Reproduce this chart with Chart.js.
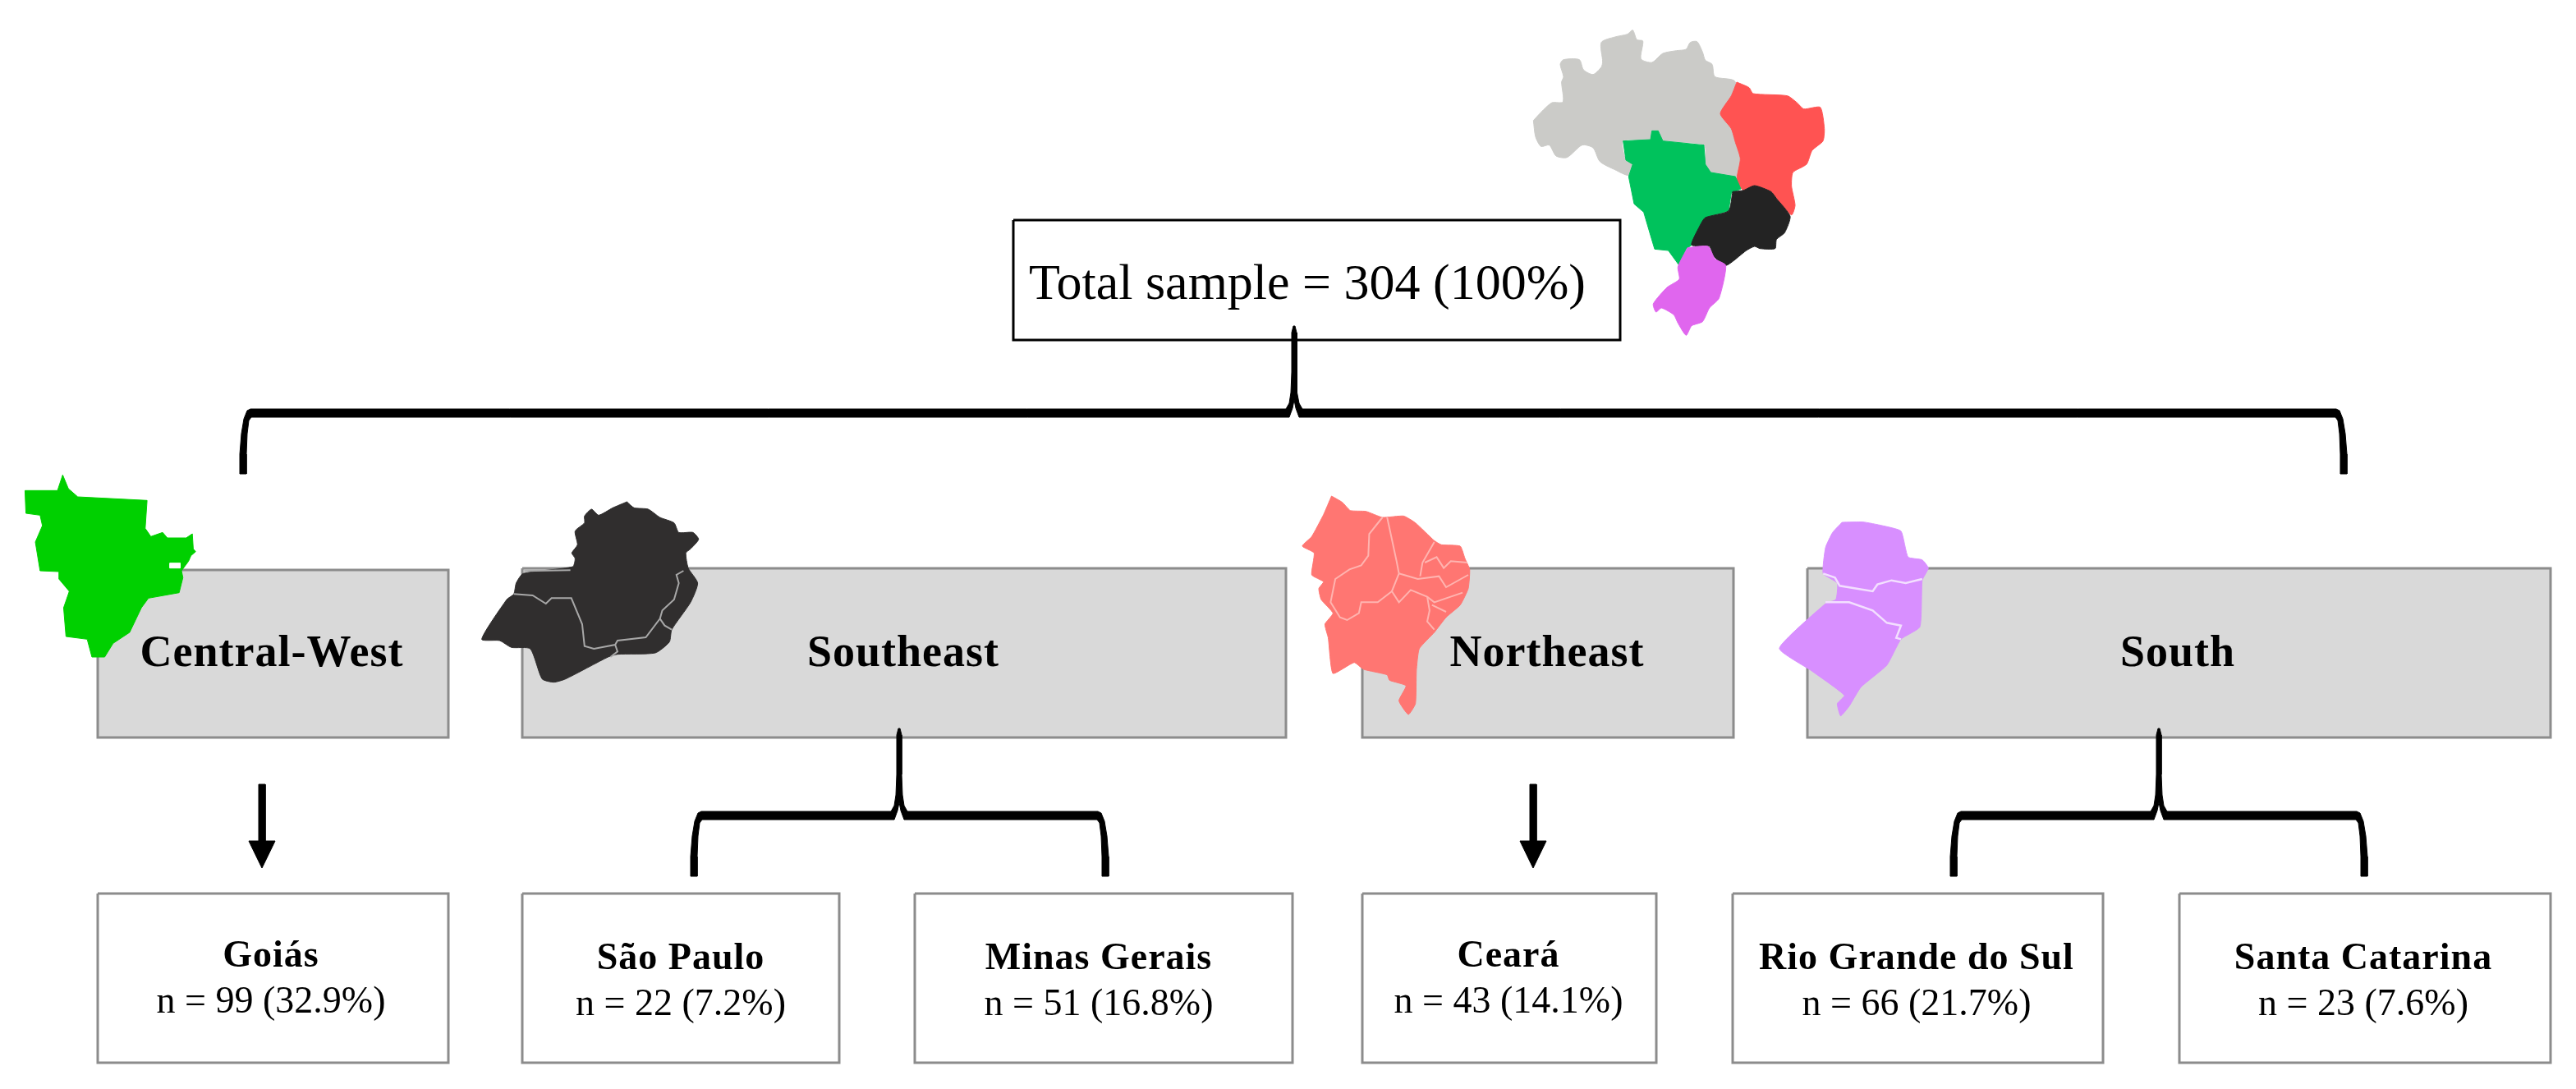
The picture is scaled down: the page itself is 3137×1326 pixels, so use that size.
<!DOCTYPE html>
<html>
<head>
<meta charset="utf-8">
<title>Total sample by region</title>
<script src="https://cdn.jsdelivr.net/npm/chart.js@4"></script>
<style>
    html, body { margin: 0; padding: 0; background: #ffffff; }
    canvas { display: block; }
</style>
</head>
<body>
<canvas id="chart" width="3137" height="1326"></canvas>
<script>
// Values
const totalSample = 304;
const totalPercent = 100;
const regions = ['Central-West', 'Southeast', 'Northeast', 'South'];
const states = ['Goiás', 'São Paulo', 'Minas Gerais', 'Ceará', 'Rio Grande do Sul', 'Santa Catarina'];
const stateCounts = [99, 22, 51, 43, 66, 23];
const statePercents = ['32.9', '7.2', '16.8', '14.1', '21.7', '7.6'];

// Layout of the diagram, in axis units (left, right)
const regionBoxes = [[119, 546], [636, 1566], [1659, 2111], [2201, 3106]];
const regionBoxTop = [694, 692, 692, 692];
const regionBoxBottom = 898;
const regionLabelX = [331, 1100, 1884, 2652];
const regionLabelY = 811;
const stateBoxes = [[119, 546], [636, 1022], [1114, 1574], [1659, 2017], [2110, 2561], [2654, 3106]];
const stateBoxTop = 1088;
const stateBoxBottom = 1294;
const stateLabelX = [330, 829, 1338, 1837, 2334, 2878];
const stateLabelY = [1177, 1180, 1180, 1177, 1180, 1180];

// Bracket shapes: left, right, middle, tip, horizontal bar, leg end
const brackets = [
    [296, 2854, 1576, 397, 503, 577],
    [845, 1346, 1095, 887, 993, 1067],
    [2379, 2879, 2629, 887, 993, 1067],
];
const arrowX = [319, 1867];

// Map outlines
const brazilNorth = [[262,440],[300,400],[330,375],[370,372],[365,300],[372,280],[360,235],[372,218],[430,218],[445,255],[480,272],[510,245],[515,225],[510,155],[560,135],[605,125],[625,110],[640,145],[662,150],[655,215],[695,228],[735,195],[785,185],[820,180],[835,155],[860,152],[880,190],[890,220],[915,235],[925,280],[1000,300],[1010,640],[905,630],[890,600],[885,530],[735,515],[720,480],[690,510],[590,515],[600,585],[625,600],[610,640],[560,620],[505,590],[480,540],[440,530],[385,575],[345,570],[320,530],[290,535],[270,500]];
const brazilNortheast = [[1005,300],[1050,320],[1065,342],[1190,350],[1225,375],[1250,398],[1310,392],[1325,470],[1320,515],[1280,550],[1260,600],[1210,630],[1205,680],[1218,750],[1205,785],[1150,725],[1130,700],[1070,678],[1030,695],[1005,660],[1018,580],[1000,520],[985,470],[945,415],[985,350]];
const brazilCentralWest = [[590,515],[690,510],[695,478],[718,478],[735,515],[885,530],[890,600],[910,630],[1000,645],[1020,690],[985,705],[975,770],[890,795],[870,825],[840,895],[820,910],[795,970],[755,915],[705,910],[690,860],[665,775],[630,745],[610,645],[625,600],[600,585]];
const brazilSoutheast = [[990,700],[1030,695],[1070,678],[1130,700],[1150,725],[1200,790],[1180,850],[1150,875],[1145,908],[1090,908],[1070,900],[1040,915],[965,970],[920,935],[905,900],[840,895],[870,825],[890,795],[975,770]];
const brazilSouth = [[825,905],[900,900],[925,945],[965,970],[940,1090],[905,1125],[880,1175],[840,1190],[820,1225],[790,1180],[775,1150],[730,1125],[710,1140],[700,1110],[750,1050],[795,1020],[790,975]];

const mapCentralWest = [[133,115],[145,165],[165,195],[312,208],[308,310],[320,340],[345,325],[355,345],[395,345],[408,330],[410,385],[415,395],[405,410],[400,430],[385,465],[388,490],[380,545],[315,565],[300,600],[275,690],[240,730],[222,780],[195,780],[185,715],[140,705],[135,600],[147,540],[125,495],[125,468],[85,465],[75,360],[90,300],[85,262],[55,255],[53,172],[122,172]];
const mapCentralWestGap = [[360,437],[382,437],[382,455],[360,455]];
const mapSoutheast = [[1330,213],[1345,235],[1375,240],[1400,270],[1430,290],[1440,325],[1470,325],[1482,350],[1465,385],[1455,400],[1460,455],[1480,510],[1465,580],[1425,680],[1420,725],[1390,765],[1310,770],[1290,780],[1200,860],[1175,872],[1150,860],[1125,750],[1085,745],[1060,720],[1022,715],[1075,570],[1090,550],[1095,510],[1110,475],[1215,450],[1220,420],[1213,400],[1225,370],[1220,320],[1240,290],[1240,265],[1255,240],[1270,262],[1300,235]];
const mapSoutheastBorders = [
    [[1090,550],[1130,555],[1158,585],[1170,565],[1212,565],[1235,660],[1240,740],[1260,750],[1305,735],[1310,720],[1370,708],[1400,640],[1405,610],[1430,570],[1440,510],[1435,480],[1450,465]],
    [[1400,640],[1410,665],[1425,680]],
    [[1305,735],[1310,760],[1295,780]],
    [[1112,466],[1210,463]],
];
const mapNortheast = [[142,102],[165,125],[182,155],[215,158],[250,180],[295,175],[320,200],[360,265],[375,280],[415,285],[425,330],[435,370],[432,440],[415,500],[385,545],[360,600],[328,660],[322,740],[320,860],[305,900],[285,850],[300,795],[265,775],[260,755],[210,735],[190,710],[145,750],[135,620],[128,570],[145,530],[120,480],[115,440],[125,415],[100,390],[105,310],[80,285],[100,250],[125,170]];
const mapNortheastBorders = [
    [[250,180],[222,240],[220,320],[205,355],[180,370],[150,405],[140,490],[160,545],[175,555],[200,530],[205,490],[240,490],[270,450]],
    [[260,180],[280,340],[285,385],[270,450],[285,490],[310,445],[345,470],[360,490],[420,455]],
    [[285,385],[325,405],[370,395],[385,435],[432,390]],
    [[360,270],[335,345],[330,395]],
    [[340,345],[365,325],[380,365],[395,340],[430,345]],
    [[345,470],[350,520],[345,560],[360,590]],
    [[355,500],[385,525]],
];
const mapSouth = [[1225,198],[1270,197],[1310,210],[1350,230],[1365,325],[1395,335],[1408,365],[1395,410],[1390,580],[1350,625],[1320,720],[1265,800],[1240,870],[1222,905],[1215,860],[1230,830],[1160,740],[1092,658],[1190,495],[1212,480],[1215,420],[1185,385],[1190,290],[1205,235]];
const mapSouthBorders = [
    [[1185,385],[1210,400],[1220,430],[1290,450],[1300,425],[1330,410],[1360,420],[1395,405]],
    [[1190,490],[1240,490],[1290,520],[1320,565],[1350,575],[1340,620],[1350,625]],
];

// Crops the outlines were traced on: origin and scale back to axis units
const brazilCrop = (pts) => place(pts, 1780, 0, 1 / 3, 1 / 3);
const leftCrop = (pts) => place(pts, 0, 540, 1 / 1.742, 1 / 3);
const rightCrop = (pts) => place(pts, 1540, 570, 1 / 1.742, 1 / 3);

function place(points, ox, oy, sx, sy) {
    return points.map(([x, y]) => ({ x: ox + x * sx, y: oy + y * sy }));
}

function toPoints(pairs) {
    return pairs.map(([x, y]) => ({ x, y }));
}

function closed(points) {
    return [...points, points[0]];
}

function rect(left, right, top, bottom) {
    return toPoints([[left, top], [right, top], [right, bottom], [left, bottom], [left, top]]);
}

function shape(data, color, tension = 0) {
    return { data: closed(data), fill: 'shape', backgroundColor: color, borderColor: color, borderWidth: 1, tension };
}

function box(data, fillColor, lineColor, width) {
    return { data, fill: 'shape', backgroundColor: fillColor, borderColor: lineColor, borderWidth: width, borderJoinStyle: 'miter' };
}

function border(data, color, width) {
    return { data, fill: false, borderColor: color, borderWidth: width };
}

// Curly bracket with a tapered stem, as one closed outline
function bracketOutline([l, r, m, tip, bar, end]) {
    return toPoints([
        [m - 1, tip], [m + 1, tip], [m + 3, tip + 8], [m + 3, bar - 50], [m + 4, bar - 25], [m + 6, bar - 12], [m + 10, bar - 5],
        [r - 9, bar - 5], [r - 5, bar - 3], [r - 1, bar + 7], [r + 2, bar + 25], [r + 4, bar + 50], [r + 4, end],
        [r - 4, end], [r - 4, bar + 50], [r - 5, bar + 25], [r - 7, bar + 9], [r - 10, bar + 5],
        [m + 9, bar + 5], [m + 6, bar + 5], [m + 2, bar - 6], [m, bar - 16], [m - 2, bar - 6], [m - 6, bar + 5], [m - 9, bar + 5],
        [l + 10, bar + 5], [l + 7, bar + 9], [l + 5, bar + 25], [l + 4, bar + 50], [l + 4, end],
        [l - 4, end], [l - 4, bar + 50], [l - 2, bar + 25], [l + 1, bar + 7], [l + 5, bar - 3], [l + 9, bar - 5],
        [m - 10, bar - 5], [m - 6, bar - 12], [m - 4, bar - 25], [m - 3, bar - 50], [m - 3, tip + 8],
    ]);
}

function arrowOutline(x) {
    return toPoints([
        [x - 4, 955], [x + 4, 955], [x + 4, 1024], [x + 16, 1024], [x, 1057], [x - 16, 1024], [x - 4, 1024],
    ]);
}

// Layers, back to front
const layers = [];
regionBoxes.forEach(([l, r], i) => {
    layers.push(box(rect(l, r, regionBoxTop[i], regionBoxBottom), '#d9d9d9', '#8c8c8c', 3));
});
stateBoxes.forEach(([l, r]) => {
    layers.push(box(rect(l, r, stateBoxTop, stateBoxBottom), '#ffffff', '#8c8c8c', 3));
});
layers.push(box(rect(1234, 1973, 268, 414), '#ffffff', '#000000', 3));

brackets.forEach((b) => layers.push(shape(bracketOutline(b), '#000000')));
arrowX.forEach((x) => layers.push(shape(arrowOutline(x), '#000000')));

layers.push(shape(brazilCrop(brazilNorth), '#cbcbc8', 0.25));
layers.push(shape(brazilCrop(brazilNortheast), '#ff5352', 0.2));
layers.push(shape(brazilCrop(brazilCentralWest), '#00c25c'));
layers.push(shape(brazilCrop(brazilSoutheast), '#232323', 0.2));
layers.push(shape(brazilCrop(brazilSouth), '#e066ee', 0.2));

layers.push(shape(leftCrop(mapCentralWest), '#00d000'));
layers.push(shape(leftCrop(mapCentralWestGap), '#ffffff'));
layers.push(shape(leftCrop(mapSoutheast), '#302e2e', 0.2));
mapSoutheastBorders.forEach((b) => layers.push(border(leftCrop(b), '#a8a8a8', 2)));
layers.push(shape(rightCrop(mapNortheast), '#ff7672', 0.15));
mapNortheastBorders.forEach((b) => layers.push(border(rightCrop(b), '#ffb4b0', 2)));
layers.push(shape(rightCrop(mapSouth), '#d88fff', 0.15));
mapSouthBorders.forEach((b) => layers.push(border(rightCrop(b), '#f3dfff', 2.5)));

// Chart.js paints the first dataset last, so flip the list
const datasets = layers.reverse().map((d) => ({ showLine: true, pointRadius: 0, tension: 0, clip: false, ...d }));

const labelsPlugin = {
    id: 'diagramLabels',
    afterDatasetsDraw(chart) {
        const { ctx, scales: { x, y } } = chart;
        const put = (text, px, py, font, spacing) => {
            ctx.font = font;
            ctx.letterSpacing = spacing;
            ctx.fillText(text, x.getPixelForValue(px), y.getPixelForValue(py));
        };

        ctx.save();
        ctx.fillStyle = '#000000';
        ctx.textAlign = 'center';
        ctx.textBaseline = 'alphabetic';

        put(`Total sample = ${totalSample} (${totalPercent}%)`, 1592, 364, '62px "Liberation Serif"', '0px');
        regions.forEach((name, i) => {
            put(name, regionLabelX[i], regionLabelY, 'bold 54px "Liberation Serif"', '1px');
        });
        states.forEach((name, i) => {
            put(name, stateLabelX[i], stateLabelY[i], 'bold 46px "Liberation Serif"', '1px');
            put(`n = ${stateCounts[i]} (${statePercents[i]}%)`, stateLabelX[i], stateLabelY[i] + 56, '46px "Liberation Serif"', '0px');
        });
        ctx.restore();
    },
};

new Chart(document.getElementById('chart').getContext('2d'), {
    type: 'scatter',
    data: { datasets },
    plugins: [labelsPlugin],
    options: {
        responsive: false,
        devicePixelRatio: 1,
        animation: false,
        layout: { padding: 0 },
        plugins: { legend: { display: false }, tooltip: { enabled: false } },
        scales: {
            x: { type: 'linear', display: false, min: 0, max: 3137 },
            y: { type: 'linear', display: false, min: 0, max: 1326, reverse: true },
        },
    },
});
</script>
</body>
</html>
